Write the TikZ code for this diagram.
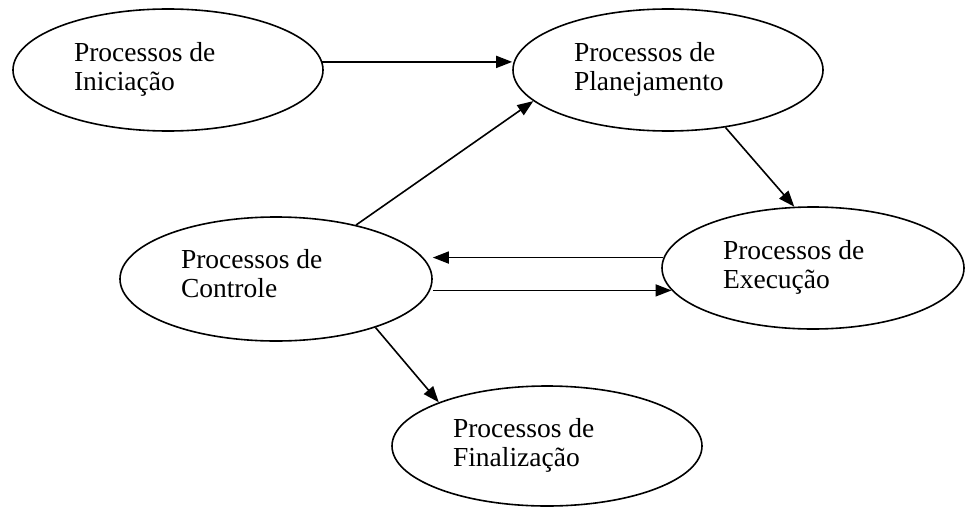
\documentclass[tikz,border=0pt]{standalone}
\usepackage{fontspec}
\setmainfont{Liberation Serif}
\usepackage{tikz}
\usetikzlibrary{shapes.geometric}
\usetikzlibrary{arrows.meta}
\tikzstyle{fluxo}=[x=1pt, y=-1pt, line width=1.6pt, font=\fontsize{27.5}{29}\selectfont]
\tikzstyle{proc}=[ellipse, draw, inner sep=0pt, minimum width=310pt, minimum height=122pt]
\tikzstyle{txt}=[inner sep=0pt, align=left, anchor=north west]
\tikzstyle{seta}=[-{Triangle[length=16pt, width=12pt]}]
\newcommand{\txtX}{61pt}
\newcommand{\txtY}{28pt}

\begin{document}
\begin{tikzpicture}[fluxo]
		\useasboundingbox (0,0) rectangle (965,508);
		%The processes
		\node[proc] (ini) at (168,70) {};
		\node[proc] (plan) at (668,70) {};
		\node[proc, minimum width=302pt] (exec) at (813,268) {};
		\node[proc, minimum width=312pt, minimum height=124pt] (ctrl) at (276,279) {};
		\node[proc, minimum height=120pt] (fin) at (547,446) {};

		%The texts
		\node[txt] (iniT) at ([xshift=\txtX, yshift=\txtY]ini.west) {Processos de\\Iniciação};
		\node[txt] (planT) at ([xshift=\txtX, yshift=\txtY]plan.west) {Processos de\\Planejamento};
		\node[txt] (execT) at ([xshift=\txtX, yshift=\txtY]exec.west) {Processos de\\Execução};
		\node[txt] (ctrlT) at ([xshift=\txtX, yshift=30pt]ctrl.west) {Processos de\\Controle};
		\node[txt] (finT) at ([xshift=\txtX, yshift=\txtY]fin.west) {Processos de\\Finalização};

		%The arrows
		\draw[seta] (ini.3) -- (ini.3 -| plan.west);
		\draw[seta] (ctrl.34) -- (plan.193);
		\draw[seta] (plan.-45) -- (exec.107);
		\draw[seta] (exec.176) -- (exec.176 -| ctrl.east);
		\draw[seta] (ctrl.east |- exec.189) -- (exec.189);
		\draw[seta] (ctrl.-26) -- (fin.158);
\end{tikzpicture}
\end{document}
